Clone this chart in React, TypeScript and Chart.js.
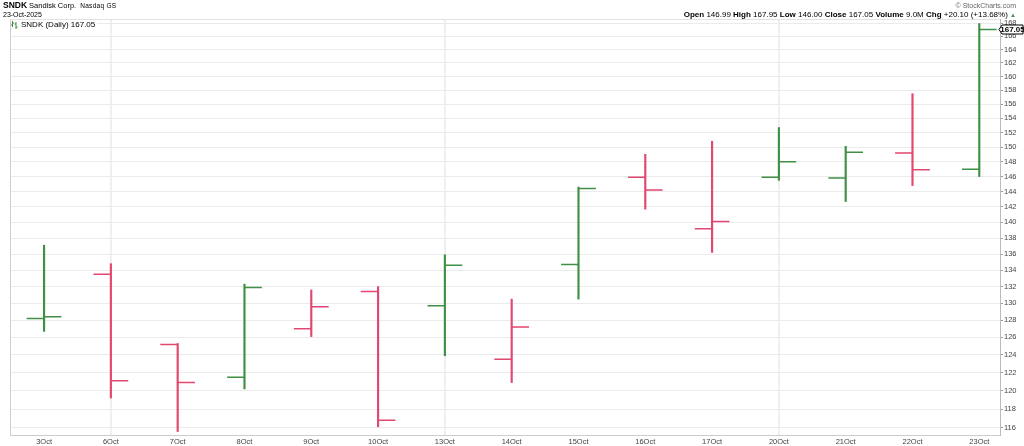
import React, { useEffect, useRef } from 'react';
import { Chart, registerables } from 'chart.js';
Chart.register(...registerables);

const dates = ['3Oct', '6Oct', '7Oct', '8Oct', '9Oct', '10Oct', '13Oct', '14Oct', '15Oct', '16Oct', '17Oct', '20Oct', '21Oct', '22Oct', '23Oct'];
const opens = [128.2, 133.5, 125.2, 121.5, 127.0, 131.4, 129.7, 123.5, 134.7, 145.9, 139.2, 145.9, 145.8, 149.2, 146.99];
const highs = [137.1, 134.8, 125.3, 132.3, 131.6, 132.0, 135.9, 130.5, 144.6, 149.0, 150.8, 152.7, 150.1, 157.5, 167.95];
const lows = [126.7, 119.2, 115.6, 120.2, 126.1, 116.1, 123.9, 120.9, 130.5, 141.7, 136.2, 145.5, 142.7, 144.8, 146.0];
const closes = [128.4, 121.1, 120.9, 131.9, 129.6, 116.8, 134.6, 127.2, 144.4, 144.2, 140.1, 148.0, 149.3, 146.9, 167.05];
const yTickValues = [116, 118, 120, 122, 124, 126, 128, 130, 132, 134, 136, 138, 140, 142, 144, 146, 148, 150, 152, 154, 156, 158, 160, 162, 164, 166, 168];
const weekStarts = ['6Oct', '13Oct', '20Oct'];

const UP = '#3f8f45';
const DOWN = '#e2476f';
const FONT = '"Liberation Sans", Arial, sans-serif';

export default function App() {
  const ref = useRef<HTMLCanvasElement>(null);

  useEffect(() => {
    const colors = closes.map((c, i) => (i === 0 || c >= closes[i - 1] ? UP : DOWN));

    const frame = {
      id: 'frame',
      beforeDatasetsDraw(chart: any) {
        const { ctx, chartArea } = chart;
        ctx.save();
        ctx.strokeStyle = '#cfcfcf';
        ctx.lineWidth = 1;
        ctx.beginPath();
        ctx.moveTo(chartArea.left + 0.5, chartArea.top);
        ctx.lineTo(chartArea.left + 0.5, chartArea.bottom);
        ctx.stroke();
        ctx.strokeStyle = '#e2e2e2';
        ctx.beginPath();
        ctx.moveTo(chartArea.left, chartArea.top + 0.5);
        ctx.lineTo(chartArea.right, chartArea.top + 0.5);
        ctx.stroke();
        ctx.restore();
      },
    };

    const ohlcTicks = {
      id: 'ohlcTicks',
      afterDatasetsDraw(chart: any) {
        const { ctx } = chart;
        const x = chart.scales.x;
        const y = chart.scales.y;
        const w = (x.getPixelForValue(1) - x.getPixelForValue(0)) * 0.26;
        ctx.save();
        ctx.lineWidth = 1.5;
        dates.forEach((_, i) => {
          const px = x.getPixelForValue(i);
          const yo = y.getPixelForValue(opens[i]);
          const yc = y.getPixelForValue(closes[i]);
          ctx.strokeStyle = colors[i];
          ctx.beginPath();
          ctx.moveTo(px - w, yo);
          ctx.lineTo(px, yo);
          ctx.moveTo(px, yc);
          ctx.lineTo(px + w, yc);
          ctx.stroke();
        });
        ctx.restore();
      },
    };

    const lastPrice = {
      id: 'lastPrice',
      afterDraw(chart: any) {
        const { ctx } = chart;
        const y = chart.scales.y;
        const last = closes[closes.length - 1];
        const py = Math.round(y.getPixelForValue(last)) + 0.5;
        const left = chart.chartArea.right + 2;
        const right = 1023;
        const h = 9;
        ctx.save();
        ctx.fillStyle = '#ffffff';
        ctx.strokeStyle = '#000000';
        ctx.lineWidth = 1;
        ctx.beginPath();
        ctx.moveTo(left - 3, py);
        ctx.lineTo(left, py - h / 2);
        ctx.lineTo(right, py - h / 2);
        ctx.lineTo(right, py + h / 2);
        ctx.lineTo(left, py + h / 2);
        ctx.closePath();
        ctx.fill();
        ctx.stroke();
        ctx.fillStyle = '#000000';
        ctx.font = 'bold 8px ' + FONT;
        ctx.textAlign = 'center';
        ctx.textBaseline = 'middle';
        ctx.fillText(last.toFixed(2), (left + right) / 2, py + 0.5);
        ctx.restore();
      },
    };

    const chart = new Chart(ref.current as HTMLCanvasElement, {
      type: 'bar',
      data: {
        datasets: [
          {
            data: dates.map((_, i) => ({ x: i, y: [lows[i], highs[i]] })) as any,
            backgroundColor: colors,
            borderWidth: 0,
            barThickness: 1.5,
          },
        ],
      },
      options: {
        animation: false,
        responsive: false,
        devicePixelRatio: 1,
        layout: { padding: { left: 10, top: 19, right: 0, bottom: 0 } },
        plugins: { legend: { display: false }, tooltip: { enabled: false } },
        scales: {
          x: {
            type: 'linear',
            min: -0.51,
            max: 14.31,
            offset: false,
            afterBuildTicks: (s: any) => {
              s.ticks = dates.map((_, i) => ({ value: i }));
            },
            afterFit: (s: any) => {
              s.height = 11;
            },
            ticks: {
              autoSkip: false,
              maxRotation: 0,
              padding: 2,
              color: '#444',
              font: { family: FONT, size: 7.5 },
              callback: (v: any) => dates[v as number] ?? '',
            },
            grid: {
              offset: false,
              drawTicks: false,
              lineWidth: 2,
              color: (c: any) => (c.tick && weekStarts.includes(dates[c.tick.value]) ? '#efefef' : 'rgba(0,0,0,0)'),
            },
            border: { display: true, color: '#cccccc', width: 1 },
          },
          y: {
            type: 'logarithmic',
            position: 'right',
            min: 115.23,
            max: 168.66,
            afterBuildTicks: (s: any) => {
              s.ticks = yTickValues.map((v) => ({ value: v }));
            },
            afterFit: (s: any) => {
              s.width = 24;
            },
            ticks: {
              autoSkip: false,
              padding: 1,
              color: '#444',
              font: { family: FONT, size: 7.5 },
              callback: (v: any) => String(v),
            },
            grid: {
              color: '#ebebeb',
              lineWidth: 1,
              tickLength: 3,
              tickColor: '#999',
            },
            border: { display: true, color: '#bbbbbb', width: 1 },
          },
        },
      },
      plugins: [frame, ohlcTicks, lastPrice],
    });
    return () => chart.destroy();
  }, []);

  const txt = (extra: React.CSSProperties): React.CSSProperties => ({
    position: 'absolute',
    fontFamily: FONT,
    whiteSpace: 'nowrap',
    color: '#000',
    ...extra,
  });

  return (
    <div style={{ position: 'fixed', left: 0, top: 0, width: 1024, height: 446, background: '#fff', overflow: 'hidden' }}>
      <canvas ref={ref} width={1024} height={446} style={{ position: 'absolute', left: 0, top: 0, width: 1024, height: 446 }} />
      <div style={txt({ left: 3, top: 0, fontSize: 8, lineHeight: '10px' })}>
        <span style={{ fontWeight: 900, fontSize: 8.5 }}>SNDK</span>
        <span style={{ fontSize: 7.5, marginLeft: 2 }}>Sandisk Corp.</span>
        <span style={{ fontSize: 6.5, marginLeft: 4, letterSpacing: 0.3 }}>Nasdaq GS</span>
      </div>
      <div style={txt({ left: 3, top: 10, fontSize: 7, lineHeight: '9px' })}>23-Oct-2025</div>
      <div style={txt({ left: 11, top: 20, fontSize: 8, lineHeight: '9px', background: '#fff', paddingRight: 2, display: 'flex', alignItems: 'center' })}>
        <svg width="7" height="8" viewBox="0 0 7 8" style={{ marginRight: 3 }}>
          <path d="M1.5 0 V6 M0 4 H1.5 M1.5 2 H3" stroke={UP} strokeWidth="1" fill="none" />
          <path d="M5 1 V8 M3.5 3 H5 M5 6 H6.5" stroke={UP} strokeWidth="1" fill="none" />
        </svg>
        <span>SNDK (Daily) 167.05</span>
      </div>
      <div style={txt({ right: 8, top: 1, fontSize: 7, lineHeight: '9px', color: '#666' })}>© StockCharts.com</div>
      <div style={txt({ right: 8, top: 10, fontSize: 8, lineHeight: '10px' })}>
        <b>Open</b> 146.99 <b>High</b> 167.95 <b>Low</b> 146.00 <b>Close</b> 167.05 <b>Volume</b> 9.0M <b>Chg</b> +20.10 (+13.68%){' '}
        <span style={{ color: UP, fontSize: 6 }}>▲</span>
      </div>
    </div>
  );
}
